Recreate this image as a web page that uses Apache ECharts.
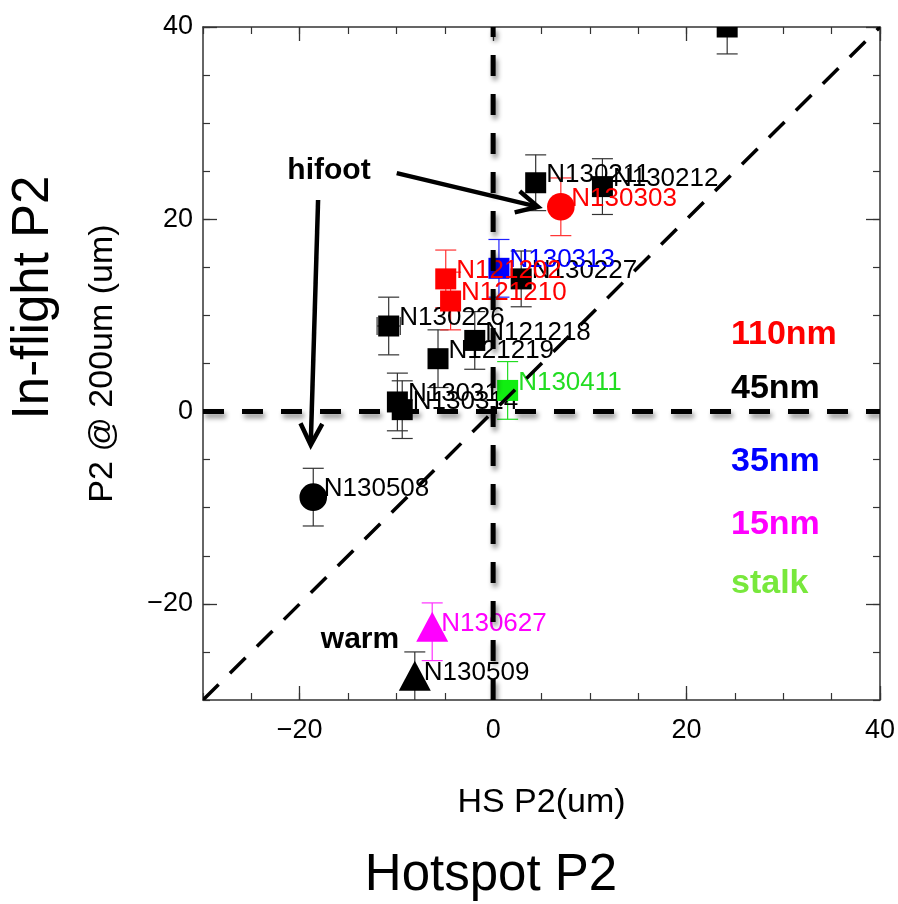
<!DOCTYPE html>
<html><head><meta charset="utf-8">
<script src="https://cdn.jsdelivr.net/npm/echarts@6/dist/echarts.min.js"></script>
<style>html,body{margin:0;padding:0;background:#fff}#chart{width:898px;height:904px}</style>
</head><body><div id="chart"></div>
<script>
// ---- data ----
const shotNames   = ['N130211','N130212','N130227','N130226','N121218','N121219','N130311','N130314','N130508','N130509','',     'N130313','N130411','N130627','N130303','N121202','N121210'];
const hsP2        = [4.4,      11.3,     2.9,      -10.8,    -1.9,     -5.7,     -9.9,     -9.4,     -18.6,    -8.1,     24.2,   0.6,      1.5,      -6.3,     7.0,      -4.9,     -4.4];
const inflightP2  = [23.8,     23.4,     13.8,     8.9,      7.4,      5.5,      1.0,      0.2,      -8.9,     -28.0,    40.0,   14.9,     2.2,      -22.9,    21.3,     13.8,     11.5];
const inflightErr = [2.9,      2.9,      2.9,      3.0,      3.0,      3.0,      3.0,      3.0,      3.0,      3.0,      2.8,    3.0,      3.0,      3.0,      3.0,      3.0,      3.0];
const hsErr       = [0,        0,        0,        1.2,      0,        0,        0,        0,        0,        0,        0,      0,        0,        0,        0,        0,        0];
const groups      = ['45nm','45nm','45nm','45nm','45nm','45nm','45nm','45nm','45nm','45nm','45nm','35nm','stalk','15nm','110nm','110nm','110nm'];
const markerShapes= ['square','square','square','square','square','square','square','square','circle','triangle','square','square','square','triangle','circle','square','square'];
const xTickValues = [-20, 0, 20, 40];
const yTickValues = [-20, 0, 20, 40];
const groupNames  = ['110nm','45nm','35nm','15nm','stalk'];
// reference lines: [x1, y1, x2, y2]
const refLineX1 = [-30, 0, -30];
const refLineY1 = [0, -30, -30];
const refLineX2 = [40, 0, 40];
const refLineY2 = [0, 40, 40];
// annotation arrows (data coordinates)
const arrowX1 = [-9.97, -18.1];
const arrowY1 = [24.8, 22.0];
const arrowX2 = [4.64, -18.86];
const arrowY2 = [21.3, -3.47];

// ---- styles ----
const FONT = 'Liberation Sans, Arial, Helvetica, sans-serif';
const markerColor = {'110nm':'#ff0000','45nm':'#000000','35nm':'#0000ff','15nm':'#ff00ff','stalk':'#11ee11'};
const labelColor  = {'110nm':'#ff0000','45nm':'#000000','35nm':'#0000ff','15nm':'#ff00ff','stalk':'#22dd22'};
const barColor    = {'110nm':'#ff3030','45nm':'#333333','35nm':'#2020ff','15nm':'#ff30ff','stalk':'#22dd22'};
const legendColor = {'110nm':'#ff0000','45nm':'#000000','35nm':'#0000ff','15nm':'#ff00ff','stalk':'#78e83c'};
const legendTop   = {'110nm':334.5,'45nm':389,'35nm':461.5,'15nm':525,'stalk':584};

const fmt = v => (v < 0 ? '\u2212' + (-v) : String(v));

const pointData = hsP2.map((x, i) => [x, inflightP2[i], inflightErr[i], hsErr[i]]);
const refData = refLineX1.map((x, i) => [x, refLineY1[i], refLineX2[i], refLineY2[i]]);
const arrowData = arrowX1.map((x, i) => [x, arrowY1[i], arrowX2[i], arrowY2[i]]);

function renderErr(params, api) {
  const i = params.dataIndex;
  const x = api.value(0), y = api.value(1), ey = api.value(2), ex = api.value(3);
  const c = barColor[groups[i]];
  const st = {stroke: c, lineWidth: 1.2};
  const t = api.coord([x, y + ey]), b = api.coord([x, y - ey]);
  const cap = 10.5;
  const ch = [
    {type:'line', shape:{x1:t[0], y1:t[1], x2:b[0], y2:b[1]}, style:st},
    {type:'line', shape:{x1:t[0]-cap, y1:t[1], x2:t[0]+cap, y2:t[1]}, style:st},
    {type:'line', shape:{x1:b[0]-cap, y1:b[1], x2:b[0]+cap, y2:b[1]}, style:st}
  ];
  if (ex > 0) {
    const l = api.coord([x - ex, y]), r = api.coord([x + ex, y]);
    ch.push({type:'line', shape:{x1:l[0], y1:l[1], x2:r[0], y2:r[1]}, style:st});
    ch.push({type:'line', shape:{x1:l[0], y1:l[1]-9, x2:l[0], y2:l[1]+9}, style:st});
    ch.push({type:'line', shape:{x1:r[0], y1:r[1]-9, x2:r[0], y2:r[1]+9}, style:st});
  }
  return {type:'group', children: ch};
}

function renderMarker(params, api) {
  const i = params.dataIndex;
  const p = api.coord([api.value(0), api.value(1)]);
  const g = groups[i];
  const fill = markerColor[g];
  const shape = markerShapes[i];
  let el, dx;
  if (shape === 'square') {
    el = {type:'rect', shape:{x:p[0]-10.5, y:p[1]-10.5, width:21, height:21}, style:{fill}};
    dx = 10.5;
  } else if (shape === 'circle') {
    el = {type:'circle', shape:{cx:p[0], cy:p[1], r:13.8}, style:{fill}};
    dx = 10.5;
  } else {
    el = {type:'polygon', shape:{points:[[p[0], p[1]-20], [p[0]+16, p[1]+10], [p[0]-16, p[1]+10]]}, style:{fill}};
    dx = 9;
  }
  const children = [el];
  if (shotNames[i]) {
    children.push({type:'text', x:p[0]+dx, y:p[1]-8,
      style:{text:shotNames[i], fill:labelColor[g], font:'26px ' + FONT, align:'left', verticalAlign:'middle'}});
  }
  return {type:'group', children};
}

function renderRef(params, api) {
  const i = params.dataIndex;
  const a = api.coord([api.value(0), api.value(1)]);
  const b = api.coord([api.value(2), api.value(3)]);
  const diag = (i === 2);
  return {type:'line', shape:{x1:a[0], y1:a[1], x2:b[0], y2:b[1]},
    style: diag ? {stroke:'#000', lineWidth:3.5, lineDash:[22,16]}
                : {stroke:'#000', lineWidth:5, lineDash:[21,18], shadowBlur:5, shadowColor:'rgba(0,0,0,0.45)', shadowOffsetX:2, shadowOffsetY:4}};
}

function renderArrow(params, api) {
  const a = api.coord([api.value(0), api.value(1)]);
  const b = api.coord([api.value(2), api.value(3)]);
  const ang = Math.atan2(b[1]-a[1], b[0]-a[0]);
  const L = 24, h = 27 * Math.PI / 180;
  const p1 = [b[0] - L*Math.cos(ang - h), b[1] - L*Math.sin(ang - h)];
  const p2 = [b[0] - L*Math.cos(ang + h), b[1] - L*Math.sin(ang + h)];
  const st = {stroke:'#000', lineWidth:4.5, fill:null, lineJoin:'miter'};
  return {type:'group', children:[
    {type:'line', shape:{x1:a[0], y1:a[1], x2:b[0]-2*Math.cos(ang), y2:b[1]-2*Math.sin(ang)}, style:st},
    {type:'polyline', shape:{points:[p1, b, p2]}, style:st}
  ]};
}

function makeAxis(dim, pos, major, showLine, showLabel) {
  const vals = dim === 'x' ? xTickValues : yTickValues;
  const ax = {
    type:'value', position:pos, min:-30, max:40, interval:5,
    axisLine:{show:showLine, onZero:false, lineStyle:{color:'#333', width:1.5}},
    axisTick: major ? {show:true, inside:true, length:14, customValues:vals, lineStyle:{color:'#333', width:1.3}}
                    : {show:true, inside:true, length:7, lineStyle:{color:'#333', width:1.2}},
    axisLabel: showLabel ? {show:true, customValues:vals, formatter:fmt, fontFamily:FONT, fontSize:27, color:'#000', margin: dim === 'x' ? 17 : 10}
                         : {show:false},
    splitLine:{show:false}
  };
  return ax;
}

const xAxes = [makeAxis('x','bottom',false,true,true), makeAxis('x','bottom',true,false,false),
               makeAxis('x','top',false,true,false), makeAxis('x','top',true,false,false)];
xAxes[0].name = 'HS P2(um)';
xAxes[0].nameLocation = 'middle';
xAxes[0].nameGap = 86;
xAxes[0].nameTextStyle = {fontFamily:FONT, fontSize:34, color:'#000'};
const yAxes = [makeAxis('y','left',false,true,true), makeAxis('y','left',true,false,false),
               makeAxis('y','right',false,true,false), makeAxis('y','right',true,false,false)];
yAxes[0].name = 'P2 @ 200um (um)';
yAxes[0].nameLocation = 'middle';
yAxes[0].nameGap = 83;
yAxes[0].nameTextStyle = {fontFamily:FONT, fontSize:34, color:'#000'};

const graphics = [
  {type:'text', x:34, y:297.5, rotation:Math.PI/2, style:{text:'In-flight P2', font:'51px ' + FONT, fill:'#000', align:'center', verticalAlign:'middle'}},
  {type:'text', x:491, y:875.5, style:{text:'Hotspot P2', font:'51px ' + FONT, fill:'#000', align:'center', verticalAlign:'middle'}},
  {type:'text', x:329, y:171, style:{text:'hifoot', font:'bold 30px ' + FONT, fill:'#000', align:'center', verticalAlign:'middle'}},
  {type:'text', x:360, y:640, style:{text:'warm', font:'bold 30px ' + FONT, fill:'#000', align:'center', verticalAlign:'middle'}}
].concat(groupNames.map(n => ({type:'text', x:731, y:legendTop[n],
  style:{text:n, font:'bold 34px ' + FONT, fill:legendColor[n], align:'left', verticalAlign:'middle'}})));

const chart = echarts.init(document.getElementById('chart'), null, {renderer:'canvas'});
chart.setOption({
  animation:false,
  backgroundColor:'#fff',
  grid:{left:203, right:18, top:27, bottom:204, containLabel:false},
  xAxis:xAxes,
  yAxis:yAxes,
  graphic:graphics,
  series:[
    {type:'custom', name:'errors', xAxisIndex:0, yAxisIndex:0, clip:true, z:2, renderItem:renderErr, data:pointData},
    {type:'custom', name:'shots', xAxisIndex:0, yAxisIndex:0, clip:true, z:3, renderItem:renderMarker, data:pointData},
    {type:'custom', name:'refLines', xAxisIndex:0, yAxisIndex:0, clip:true, z:4, renderItem:renderRef, data:refData},
    {type:'custom', name:'arrows', xAxisIndex:0, yAxisIndex:0, clip:false, z:5, renderItem:renderArrow, data:arrowData}
  ]
});
</script></body></html>
